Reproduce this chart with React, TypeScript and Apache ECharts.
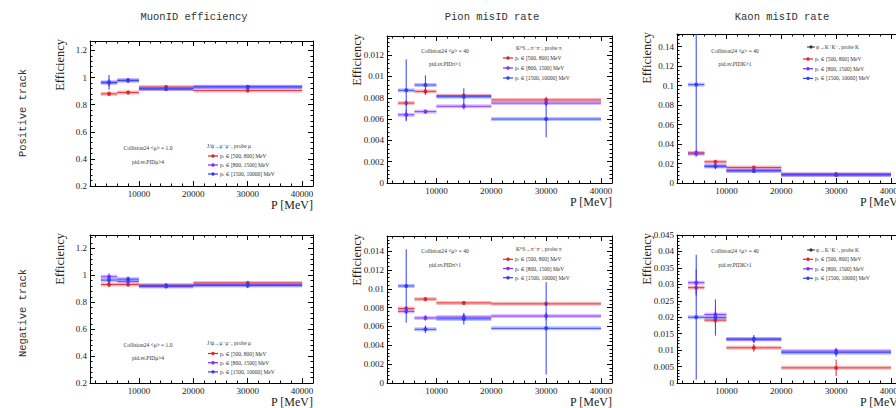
import React, { useEffect, useRef } from "react";
import * as echarts from "echarts";

// ---------- data ----------
const binLow = [3000, 6000, 10000, 20000];
const binHigh = [6000, 10000, 20000, 40000];
const binCenter = [4500, 8000, 15000, 30000];
const xMajorTicks = [10000, 20000, 30000, 40000];
const xMinorTicks = [2000, 4000, 6000, 8000, 12000, 14000, 16000, 18000, 22000, 24000, 26000, 28000, 32000, 34000, 36000, 38000];

const columnTitles = ["MuonID efficiency", "Pion misID rate", "Kaon misID rate"];
const rowTitles = ["Positive track", "Negative track"];
const legendLabels = ["p\u209C \u2208 [500, 800] MeV", "p\u209C \u2208 [800, 1500] MeV", "p\u209C \u2208 [1500, 10000] MeV"];
const legendHeaders = ["J/\u03C8\u2192\u03BC\u207A\u03BC\u207B, probe \u03BC", "K\u2070S\u2192\u03C0\u207A\u03C0\u207B, probe \u03C0", "\u03C6\u2192K\u207AK\u207B, probe K"];
const infoLine1 = ["Collision24 <\u03BC> = 1.0", "Collision24 <\u03BC> = 40", "Collision24 <\u03BC> = 40"];
const infoLine2 = ["pid.sv.PID\u03BC>4", "pid.sv.PID\u03C0>1", "pid.sv.PIDK>1"];

// Muon, positive
const muonPosRed = [0.88, 0.89, 0.93, 0.905];
const muonPosRedErr = [0.015, 0.012, 0.012, 0.012];
const muonPosPurple = [0.962, 0.978, 0.915, 0.931];
const muonPosPurpleErr = [0.03, 0.015, 0.012, 0.012];
const muonPosBlue = [0.965, 0.98, 0.917, 0.932];
const muonPosBlueErr = [0.055, 0.015, 0.012, 0.012];
// Muon, negative
const muonNegRed = [0.932, 0.932, 0.927, 0.944];
const muonNegRedErr = [0.02, 0.015, 0.01, 0.015];
const muonNegPurple = [0.99, 0.955, 0.918, 0.93];
const muonNegPurpleErr = [0.025, 0.02, 0.012, 0.015];
const muonNegBlue = [0.965, 0.972, 0.922, 0.925];
const muonNegBlueErr = [0.03, 0.02, 0.015, 0.02];
// Pion, positive
const pionPosRed = [0.0075, 0.0086, 0.0082, 0.0078];
const pionPosRedErr = [0.0003, 0.0003, 0.0002, 0.0003];
const pionPosPurple = [0.0064, 0.0067, 0.0072, 0.0075];
const pionPosPurpleErr = [0.0005, 0.0002, 0.0003, 0.0003];
const pionPosBlue = [0.0087, 0.0092, 0.0081, 0.006];
const pionPosBlueErr = [0.0029, 0.0009, 0.0008, 0.0017];
// Pion, negative
const pionNegRed = [0.0079, 0.0089, 0.0085, 0.0084];
const pionNegRedErr = [0.0002, 0.0002, 0.0002, 0.0002];
const pionNegPurple = [0.0076, 0.0069, 0.007, 0.0071];
const pionNegPurpleErr = [0.0003, 0.0003, 0.0004, 0.0004];
const pionNegBlue = [0.0103, 0.0057, 0.0068, 0.0058];
const pionNegBlueErr = [0.0039, 0.0004, 0.0006, 0.0049];
// Kaon, positive
const kaonPosRed = [0.031, 0.0217, 0.0159, 0.009];
const kaonPosRedErr = [0.002, 0.002, 0.0015, 0.001];
const kaonPosPurple = [0.03, 0.0172, 0.013, 0.0085];
const kaonPosPurpleErr = [0.003, 0.002, 0.0015, 0.001];
const kaonPosBlue = [0.101, 0.0172, 0.0124, 0.0085];
const kaonPosBlueErr = [0.07, 0.003, 0.002, 0.0015];
// Kaon, negative
const kaonNegRed = [0.029, 0.0191, 0.0107, 0.0046];
const kaonNegRedErr = [0.002, 0.002, 0.0012, 0.0025];
const kaonNegPurple = [0.0305, 0.0208, 0.0132, 0.0097];
const kaonNegPurpleErr = [0.004, 0.002, 0.001, 0.001];
const kaonNegBlue = [0.02, 0.0199, 0.0134, 0.0092];
const kaonNegBlueErr = [0.019, 0.0055, 0.0012, 0.0012];

// ---------- styles ----------
const COLORS = ["#e0262b", "#7b2dff", "#2f3dff"];
const BANDS = ["rgba(235,60,60,0.35)", "rgba(140,70,255,0.35)", "rgba(60,80,255,0.35)"];
const SERIF = "'Liberation Serif', 'DejaVu Serif', serif";
const MONO = "'Liberation Mono', 'DejaVu Sans Mono', monospace";

const panels = [
  { col: 0, grid: { left: 90, top: 41, width: 223, height: 145 }, y: [0.2, 1.27, 0.2], showMax: false,
    data: [[muonPosRed, muonPosRedErr], [muonPosPurple, muonPosPurpleErr], [muonPosBlue, muonPosBlueErr]],
    info: [148, 148, 162], legend: [207, 146, 156, 9], headerMarker: false },
  { col: 1, grid: { left: 387, top: 36, width: 225, height: 147 }, y: [0, 0.0138, 0.002], showMax: false,
    data: [[pionPosRed, pionPosRedErr], [pionPosPurple, pionPosPurpleErr], [pionPosBlue, pionPosBlueErr]],
    info: [445, 51, 64], legend: [516, 48, 58, 10], headerMarker: false },
  { col: 2, grid: { left: 677, top: 34, width: 225, height: 149 }, y: [0, 0.153, 0.02], showMax: false,
    data: [[kaonPosRed, kaonPosRedErr], [kaonPosPurple, kaonPosPurpleErr], [kaonPosBlue, kaonPosBlueErr]],
    info: [735, 51, 64], legend: [816, 47, 59, 9.7], headerMarker: true },
  { col: 0, grid: { left: 90, top: 235, width: 223, height: 148 }, y: [0.2, 1.3, 0.2], showMax: false,
    data: [[muonNegRed, muonNegRedErr], [muonNegPurple, muonNegPurpleErr], [muonNegBlue, muonNegBlueErr]],
    info: [148, 345, 358], legend: [207, 343, 353.5, 9.2], headerMarker: false },
  { col: 1, grid: { left: 387, top: 236, width: 225, height: 147 }, y: [0, 0.0156, 0.002], showMax: false,
    data: [[pionNegRed, pionNegRedErr], [pionNegPurple, pionNegPurpleErr], [pionNegBlue, pionNegBlueErr]],
    info: [445, 251, 265], legend: [516, 249, 259.3, 9.2], headerMarker: false },
  { col: 2, grid: { left: 677, top: 235, width: 225, height: 148 }, y: [0, 0.045, 0.005], showMax: true,
    data: [[kaonNegRed, kaonNegRedErr], [kaonNegPurple, kaonNegPurpleErr], [kaonNegBlue, kaonNegBlueErr]],
    info: [735, 251, 265], legend: [816, 250, 259.3, 9.5], headerMarker: true },
];

function fmt(v: number) {
  return String(+v.toFixed(4));
}

function buildOption() {
  const grids: any[] = [];
  const xAxis: any[] = [];
  const yAxis: any[] = [];
  const series: any[] = [];
  const elements: any[] = [];
  const axisLine = { show: true, lineStyle: { color: "#000", width: 1 } };

  panels.forEach((p, i) => {
    grids.push({ ...p.grid, containLabel: false, outerBoundsMode: "none" });
    const xBase = { gridIndex: i, type: "value", min: 1000, max: 42000, splitLine: { show: false } };
    xAxis.push({ ...xBase, position: "bottom", axisLine,
      axisTick: { show: true, inside: true, length: 5, customValues: xMajorTicks, lineStyle: { color: "#000" } },
      axisLabel: { show: true, customValues: xMajorTicks, fontSize: 9, margin: 3, color: "#222", fontFamily: SERIF,
        formatter: (v: number) => String(Math.round(v)) } });
    xAxis.push({ ...xBase, position: "bottom", axisLine: { show: false },
      axisTick: { show: true, inside: true, length: 2.5, customValues: xMinorTicks, lineStyle: { color: "#000" } },
      axisLabel: { show: false } });
    xAxis.push({ ...xBase, position: "top", axisLine,
      axisTick: { show: true, inside: true, length: 5, customValues: xMajorTicks, lineStyle: { color: "#000" } },
      axisLabel: { show: false } });
    xAxis.push({ ...xBase, position: "top", axisLine: { show: false },
      axisTick: { show: true, inside: true, length: 2.5, customValues: xMinorTicks, lineStyle: { color: "#000" } },
      axisLabel: { show: false } });
    const yBase = { gridIndex: i, type: "value", min: p.y[0], max: p.y[1], interval: p.y[2],
      splitLine: { show: false }, minorSplitLine: { show: false }, axisLine,
      axisTick: { show: true, inside: true, length: 5, lineStyle: { color: "#000" } },
      minorTick: { show: true, splitNumber: 5, length: 2.5, lineStyle: { color: "#000" } } };
    yAxis.push({ ...yBase, position: "left",
      axisLabel: { show: true, fontSize: 9, margin: 3, color: "#222", fontFamily: SERIF, formatter: fmt,
        showMaxLabel: p.showMax, showMinLabel: true } });
    yAxis.push({ ...yBase, position: "right", axisLabel: { show: false } });

    p.data.forEach(([vals, errs], s) => {
      const color = COLORS[s];
      const band = BANDS[s];
      series.push({
        type: "custom",
        xAxisIndex: 4 * i,
        yAxisIndex: 2 * i,
        clip: true,
        silent: true,
        z: 2 + s,
        encode: { x: [0, 1], y: 3 },
        data: binLow.map((lo, k) => [lo, binHigh[k], binCenter[k], vals[k], errs[k]]),
        renderItem: (params: any, api: any) => {
          const lo = api.value(0), hi = api.value(1), xc = api.value(2), v = api.value(3), e = api.value(4);
          const pL = api.coord([lo, v]);
          const pR = api.coord([hi, v]);
          const pT = api.coord([xc, v + e]);
          const pB = api.coord([xc, v - e]);
          const pC = api.coord([xc, v]);
          return {
            type: "group",
            children: [
              { type: "line", shape: { x1: pL[0], y1: pL[1], x2: pR[0], y2: pR[1] }, style: { stroke: band, lineWidth: 4 } },
              { type: "line", shape: { x1: pL[0], y1: pL[1], x2: pR[0], y2: pR[1] }, style: { stroke: color, lineWidth: 1, opacity: 0.85 } },
              { type: "line", shape: { x1: pT[0], y1: pT[1], x2: pB[0], y2: pB[1] }, style: { stroke: color, lineWidth: 1 } },
              { type: "circle", shape: { cx: pC[0], cy: pC[1], r: 2 }, style: { fill: color } },
            ],
          };
        },
      });
    });

    const g = p.grid;
    // axis titles
    elements.push({ type: "text", x: g.left - 30, y: g.top - 2, rotation: Math.PI / 2,
      style: { text: "Efficiency", align: "right", verticalAlign: "middle", fill: "#222", font: `12.5px ${SERIF}` } });
    elements.push({ type: "text", x: g.left + g.width, y: g.top + g.height + 19,
      style: { text: "P [MeV]", align: "right", verticalAlign: "middle", fill: "#222", font: `12px ${SERIF}` } });
    // info
    elements.push({ type: "text", x: p.info[0], y: p.info[1],
      style: { text: infoLine1[p.col], align: "center", verticalAlign: "middle", fill: "#333", font: `5.5px ${SERIF}` } });
    elements.push({ type: "text", x: p.info[0], y: p.info[2],
      style: { text: infoLine2[p.col], align: "center", verticalAlign: "middle", fill: "#333", font: `5.5px ${SERIF}` } });
    // legend
    const [lx, hy, ey, dy] = p.legend;
    if (p.headerMarker) {
      elements.push({ type: "line", shape: { x1: lx - 9, y1: hy, x2: lx - 1, y2: hy }, style: { stroke: "#333", lineWidth: 1 } });
      elements.push({ type: "circle", shape: { cx: lx - 5, cy: hy, r: 1.6 }, style: { fill: "#333" } });
    }
    elements.push({ type: "text", x: lx, y: hy,
      style: { text: legendHeaders[p.col], align: "left", verticalAlign: "middle", fill: "#333", font: `5.5px ${SERIF}` } });
    legendLabels.forEach((lab, s) => {
      const yy = ey + s * dy;
      const mx = p.col === 0 ? lx + 11 : lx - 3;
      elements.push({ type: "line", shape: { x1: mx - 10, y1: yy, x2: mx, y2: yy }, style: { stroke: COLORS[s], lineWidth: 1.2 } });
      elements.push({ type: "circle", shape: { cx: mx - 5, cy: yy, r: 1.7 }, style: { fill: COLORS[s] } });
      elements.push({ type: "text", x: mx + 2, y: yy,
        style: { text: lab, align: "left", verticalAlign: "middle", fill: "#333", font: `5.5px ${SERIF}` } });
    });
  });

  // column titles
  const titleX = [194, 492, 782];
  columnTitles.forEach((t, c) => {
    elements.push({ type: "text", x: titleX[c], y: 17,
      style: { text: t, align: "center", verticalAlign: "middle", fill: "#333", font: `10.5px ${MONO}` } });
  });
  const rowY = [113, 313];
  rowTitles.forEach((t, r) => {
    elements.push({ type: "text", x: 23, y: rowY[r], rotation: Math.PI / 2,
      style: { text: t, align: "center", verticalAlign: "middle", fill: "#333", font: `10.5px ${MONO}` } });
  });

  return {
    animation: false,
    backgroundColor: "#ffffff",
    grid: grids,
    xAxis,
    yAxis,
    series,
    graphic: { elements },
  };
}

export default function App() {
  const ref = useRef<HTMLDivElement>(null);
  useEffect(() => {
    document.body.style.margin = "0";
    if (!ref.current) return;
    const chart = echarts.init(ref.current, undefined, { renderer: "svg" });
    chart.setOption(buildOption() as any);
    return () => chart.dispose();
  }, []);
  return <div ref={ref} style={{ width: 896, height: 408, overflow: "hidden" }} />;
}
